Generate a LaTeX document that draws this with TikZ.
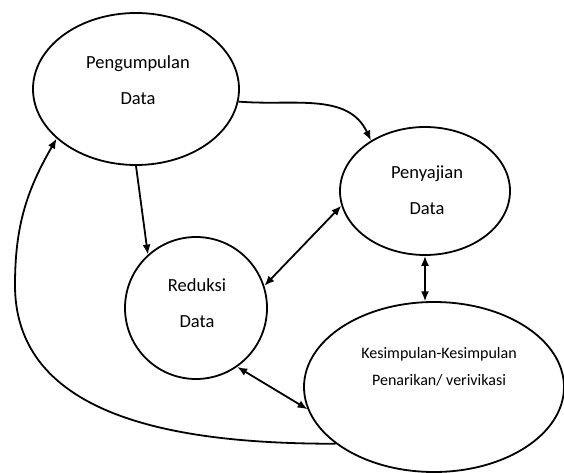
\documentclass[tikz,border=0pt]{standalone}
\usepackage{fontspec}
\setmainfont{Carlito}
\usetikzlibrary{shapes.geometric, arrows.meta}

\begin{document}
\begin{tikzpicture}[
    x=1pt, y=-1pt,
    >={Latex[length=10pt, width=8pt]},
    stage/.style={ellipse, draw, line width=1.8pt, inner sep=0pt},
    caption/.style={align=center, font=\fontsize{18.5}{36}\selectfont},
    smallcaption/.style={align=center, font=\fontsize{16}{27}\selectfont},
    arrow/.style={->, line width=1.8pt},
    twoway/.style={<->, line width=1.8pt}
]
\useasboundingbox (0,0) rectangle (564,473);

% Pengumpulan data
\node[stage, minimum width=206pt, minimum height=152pt] (pd) at (136,89) {};
\node[caption] (pd-t) at (138,80) {Pengumpulan\\Data};

% Penyajian data
\node[stage, minimum width=170pt, minimum height=128pt] (pj) at (425,191) {};
\node[caption] (pj-t) at (427,190) {Penyajian\\Data};

% Reduksi data
\node[stage, minimum width=142pt, minimum height=142pt] (rd) at (196,308) {};
\node[caption] (rd-t) at (197,303) {Reduksi\\Data};

% Kesimpulan
\node[stage, minimum width=260pt, minimum height=170pt] (ks) at (434,387) {};
\node[smallcaption] (ks-t) at (439,367) {Kesimpulan-Kesimpulan\\Penarikan/ verivikasi};

\coordinate (lft) at (15,285);

% Connections
\draw[arrow] (pd.-7) to[out=-5, in=115] (pj.137);
\draw[arrow] (pd.south) -- (rd.132);
\draw[twoway] (pj.190) -- (rd.18);
\draw[twoway] (pj.south) -- (ks.96);
\draw[twoway] (ks.190) -- (rd.-55);
\draw[arrow] (ks.210) to[out=180, in=-90] (lft) to[out=90, in=240] (pd.212);

\end{tikzpicture}
\end{document}
